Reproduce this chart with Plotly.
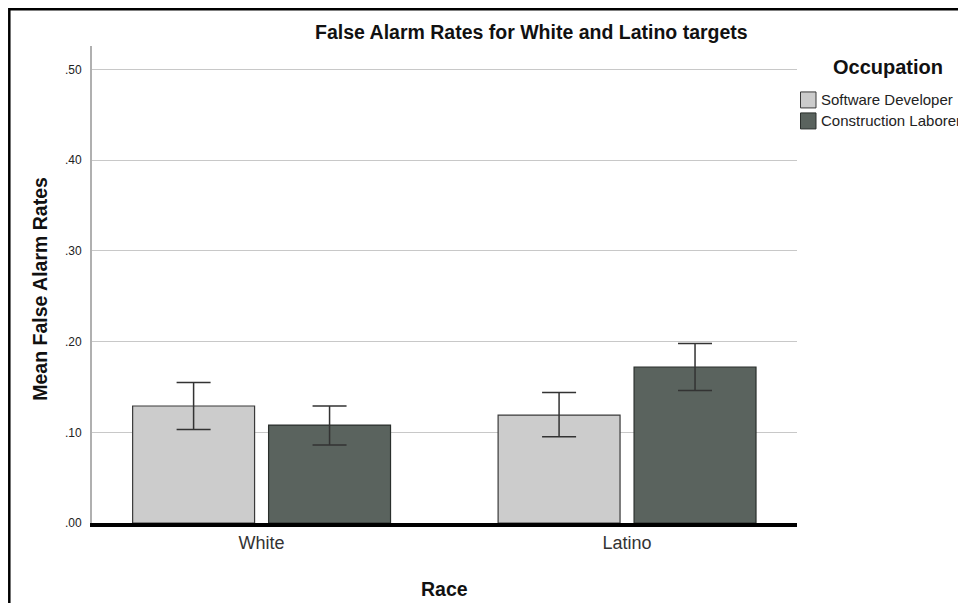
import plotly.graph_objects as go

races = ["White", "Latino"]
occupations = ["Software Developer", "Construction Laborer"]
sd_means = [0.129, 0.119]
sd_hi = [0.155, 0.144]
sd_lo = [0.103, 0.095]
cl_means = [0.108, 0.172]
cl_hi = [0.129, 0.198]
cl_lo = [0.086, 0.146]
yticks = [0.0, 0.1, 0.2, 0.3, 0.4, 0.5]
yticklabels = [".00", ".10", ".20", ".30", ".40", ".50"]

FONT = "Liberation Sans, Arial, sans-serif"
COLORS = ["#cccccc", "#5a635e"]
EDGES = ["#3a3a3a", "#2a2f2c"]

OFF = 8  # page body margin offset
PW, PH = 966, 603  # page/window size
FW, FH = PW - OFF, PH - OFF  # figure size so it fits the window exactly
# plot area in page pixels (target)
L, R, T, B = 92, 797, 46, 523.5
W, H = R - L, B - T

def px(x):
    return (x - L) / W

def py(y):
    return (B - y) / H

def err(m, hi, lo):
    return dict(type="data", symmetric=False,
                array=[h - v for h, v in zip(hi, m)],
                arrayminus=[v - l for v, l in zip(m, lo)],
                color="#333333", thickness=1.5, width=17)

fig = go.Figure()
fig.add_trace(go.Bar(x=races, y=sd_means, name=occupations[0],
                     marker=dict(color=COLORS[0], line=dict(color=EDGES[0], width=1.2)),
                     error_y=err(sd_means, sd_hi, sd_lo)))
fig.add_trace(go.Bar(x=races, y=cl_means, name=occupations[1],
                     marker=dict(color=COLORS[1], line=dict(color=EDGES[1], width=1.2)),
                     error_y=err(cl_means, cl_hi, cl_lo)))

fig.update_layout(
    width=FW, height=FH,
    margin=dict(l=L - OFF, r=PW - R, t=T - OFF, b=PH - B, pad=0),
    paper_bgcolor="white", plot_bgcolor="white",
    barmode="group", bargap=0.256, bargroupgap=0.103,
    font=dict(family=FONT, color="#222222"),
    showlegend=False,
    xaxis=dict(range=[-0.464, 1.465], showline=True, linecolor="black", linewidth=4,
               ticks="", tickfont=dict(size=18, color="#333333"),
               showgrid=False, zeroline=False, automargin=False),
    yaxis=dict(range=[0, 0.526], tickvals=yticks, ticktext=yticklabels,
               tickfont=dict(size=12, color="#222222"), ticklabelstandoff=6,
               showgrid=True, gridcolor="#c8c8c8", gridwidth=1,
               showline=True, linecolor="#b0b0b0", linewidth=2,
               zeroline=False, ticks="", automargin=False),
)

# title and axis titles
fig.add_annotation(text="<b>False Alarm Rates for White and Latino targets</b>",
                   xref="paper", yref="paper", x=px(531), y=py(32),
                   xanchor="center", yanchor="middle", showarrow=False,
                   font=dict(size=19.5, color="#111111"))
fig.add_annotation(text="<b>Mean False Alarm Rates</b>", textangle=-90,
                   xref="paper", yref="paper", x=px(40), y=py(289),
                   xanchor="center", yanchor="middle", showarrow=False,
                   font=dict(size=19.5, color="#111111"))
fig.add_annotation(text="<b>Race</b>",
                   xref="paper", yref="paper", x=px(445), y=py(590),
                   xanchor="center", yanchor="middle", showarrow=False,
                   font=dict(size=19.5, color="#111111"))

# legend
fig.add_annotation(text="<b>Occupation</b>", xref="paper", yref="paper",
                   x=px(888), y=py(67), xanchor="center", yanchor="middle",
                   showarrow=False, font=dict(size=20, color="#111111"))
for i, name in enumerate(occupations):
    yc = 100 + 21 * i
    fig.add_shape(type="rect", xref="paper", yref="paper",
                  x0=px(800.5), x1=px(816), y0=py(yc + 8), y1=py(yc - 8),
                  fillcolor=COLORS[i], line=dict(color=EDGES[i], width=1))
    fig.add_annotation(text=name, xref="paper", yref="paper",
                       x=px(818.5), y=py(yc), xanchor="left", yanchor="middle",
                       showarrow=False, font=dict(size=15, color="#222222"))

# outer frame (left and top edges visible)
fig.add_shape(type="rect", xref="paper", yref="paper",
              x0=px(OFF + 1.3), x1=px(990), y0=py(640), y1=py(OFF + 1.3),
              line=dict(color="black", width=2.5), fillcolor="rgba(0,0,0,0)", layer="above")

fig.write_html("out.html")
